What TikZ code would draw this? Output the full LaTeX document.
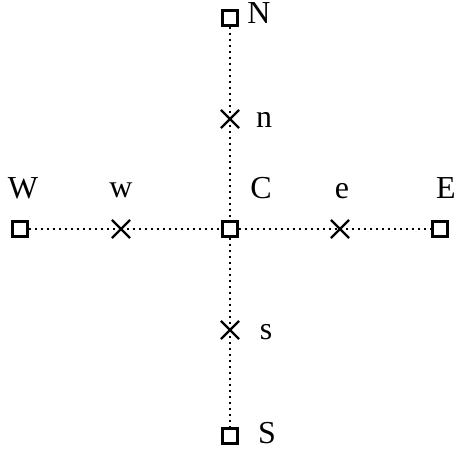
\documentclass[tikz,border=0pt]{standalone}
\usepackage{fontspec}
\setmainfont{Liberation Serif}
\usetikzlibrary{shapes.misc}

\begin{document}
\begin{tikzpicture}[x=0.5pt,y=-0.5pt,line width=1.1pt,
  grid/.style={draw,rectangle,minimum size=7.5pt,inner sep=0pt},
  face/.style={draw,cross out,minimum size=8pt,inner sep=0pt},
  lab/.style={anchor=base,inner sep=0pt,font=\fontsize{16pt}{19pt}\selectfont},
  link/.style={dotted,line width=1pt}]
  \useasboundingbox (0,0) rectangle (456,452);
  % puntos nodales
  \node[grid] (C) at (230,229){};
  \node[grid] (N) at (230,18){};
  \node[grid] (S) at (230,436){};
  \node[grid] (W) at (20,229){};
  \node[grid] (E) at (440,229){};
  % caras
  \node[face] (n) at (230,119){};
  \node[face] (s) at (230,330){};
  \node[face] (w) at (121,229){};
  \node[face] (e) at (340,229){};
  % lineas
  \draw[link] (W) -- (w.center);
  \draw[link] (w.center) -- (C);
  \draw[link] (C) -- (e.center);
  \draw[link] (e.center) -- (E);
  \draw[link] (N) -- (n.center);
  \draw[link] (n.center) -- (C);
  \draw[link] (C) -- (s.center);
  \draw[link] (s.center) -- (S);
  % etiquetas
  \node[lab] (lC) at (261,198){C};
  \node[lab] (lN) at (259,23){N};
  \node[lab] (lS) at (267,443){S};
  \node[lab] (lW) at (23,198){W};
  \node[lab] (lE) at (446,198){E};
  \node[lab] (ln) at (264,127){n};
  \node[lab] (ls) at (266,339){s};
  \node[lab] (lw) at (121,197){w};
  \node[lab] (le) at (342,198){e};
\end{tikzpicture}
\end{document}
